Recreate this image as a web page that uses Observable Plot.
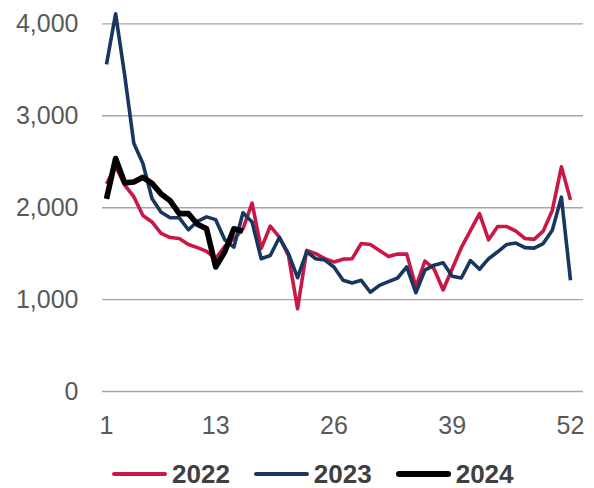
<!DOCTYPE html>
<html><head><meta charset="utf-8">
<script src="https://cdn.jsdelivr.net/npm/d3@7"></script>
<script src="https://cdn.jsdelivr.net/npm/@observablehq/plot@0.6"></script>
<style>
body{margin:0;background:#fff;font-family:"Liberation Sans",Arial,sans-serif;width:594px;height:488px;overflow:hidden;}
#chart svg{display:block;}
#legend{display:flex;align-items:center;box-sizing:border-box;height:36px;margin-left:112px;padding-top:8px;}
.item{display:flex;align-items:center;margin-right:24px;height:26px;}
.sw{display:inline-block;width:55px;border-radius:3px;margin-right:5px;}
.lab{font-weight:bold;font-size:26px;line-height:26px;color:#404040;}
</style></head><body><div id="chart"></div><div id="legend"></div>
<script>
const weeks = d3.range(1, 53);
const v2022 = [2260,2450,2245,2120,1915,1845,1720,1675,1665,1600,1565,1525,1445,1580,1660,1770,2050,1555,1800,1680,1480,900,1535,1500,1445,1410,1440,1445,1610,1600,1535,1470,1495,1495,1140,1420,1335,1105,1335,1565,1750,1935,1650,1795,1795,1745,1665,1655,1745,1970,2445,2085];
const v2023 = [3560,4110,3440,2700,2480,2100,1950,1890,1890,1760,1850,1900,1870,1650,1570,1945,1845,1445,1480,1675,1500,1240,1520,1445,1430,1355,1210,1180,1210,1080,1155,1195,1235,1355,1075,1320,1375,1400,1255,1235,1425,1330,1445,1520,1600,1615,1565,1560,1610,1755,2115,1210];
const v2024 = [2095,2535,2270,2280,2330,2265,2150,2075,1935,1935,1820,1770,1355,1520,1770,1745];
const xTicks = [1, 13, 26, 39, 52];
const yTicks = [0, 1000, 2000, 3000, 4000];
const seriesNames = ["2022", "2023", "2024"];
const seriesValues = [v2022, v2023, v2024];
const colors = ["#C91846", "#17375E", "#000000"];
const widths = [3.6, 3.6, 5.6];

const rows = [];
seriesNames.forEach((s, i) => seriesValues[i].forEach((v, j) => rows.push({series: s, week: weeks[j], value: v})));

const chart = Plot.plot({
  width: 594, height: 452,
  marginLeft: 102, marginRight: 11, marginTop: 5, marginBottom: 61,
  style: {fontFamily: '"Liberation Sans", Arial, sans-serif', fontSize: "25px", color: "#595959", background: "#fff"},
  x: {domain: [0.56, 53.43]},
  y: {domain: [0, 4200]},
  color: {domain: seriesNames, range: colors},
  marks: [
    Plot.ruleY(yTicks, {stroke: "#A6A6A6", strokeWidth: 1.4}),
    Plot.axisY({ticks: yTicks, tickSize: 0, tickPadding: 24, tickFormat: d3.format(","), label: null}),
    Plot.axisX({ticks: xTicks, tickSize: 0, tickPadding: 25, tickFormat: d => d, label: null}),
    ...seriesNames.map((s, i) => Plot.line(rows.filter(r => r.series === s), {
      x: "week", y: "value", stroke: colors[i], strokeWidth: widths[i], strokeLinejoin: "round", strokeLinecap: "butt"
    }))
  ]
});
document.getElementById("chart").appendChild(chart);

const legend = document.getElementById("legend");
seriesNames.forEach((s, i) => {
  const it = document.createElement("div"); it.className = "item";
  const sw = document.createElement("span"); sw.className = "sw";
  sw.style.background = colors[i]; sw.style.height = (i === 2 ? 6 : 4) + "px";
  const lb = document.createElement("span"); lb.className = "lab"; lb.textContent = s;
  it.appendChild(sw); it.appendChild(lb); legend.appendChild(it);
});
</script></body></html>
